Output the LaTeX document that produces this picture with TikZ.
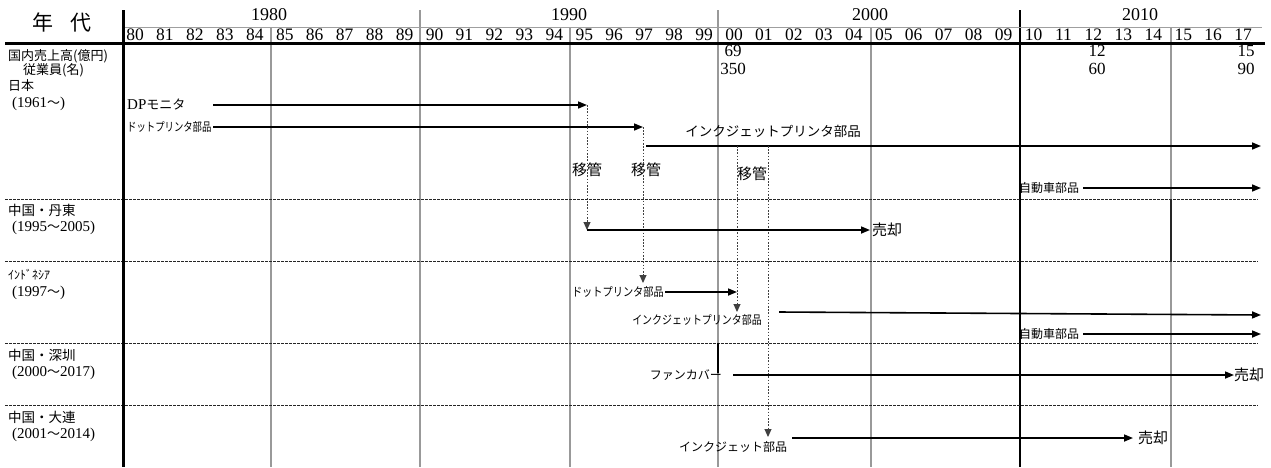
\documentclass[tikz,border=0pt]{standalone}
\usepackage{fontspec}
\usepackage{graphicx}
\setmainfont{Liberation Serif}
\newfontfamily\jp{Noto Sans CJK JP}
\usetikzlibrary{arrows.meta}
\begin{document}
\begin{tikzpicture}[x=1pt,y=-1pt,
  jp/.style={inner sep=1pt, font=\jp\fontsize{#1}{#1}\selectfont},
  num/.style={inner sep=0pt, font=\fontsize{#1}{#1}\selectfont},
  grid/.style={draw=gray!80, line width=1.1pt},
  gridk/.style={draw=black, line width=1.1pt},
  sep/.style={draw=black!85, line width=0.8pt, dash pattern=on 2.5pt off 1.5pt},
  flow/.style={line width=1.6pt, -{Triangle[length=9pt,width=7pt]}},
  move/.style={draw=black!75, line width=1pt, dash pattern=on 1.6pt off 1.6pt, -{Triangle[length=8pt,width=7pt]}}
]
\useasboundingbox (0,0) rectangle (1271,467);

% ---- grid ----
\foreach \x in {271,570,871,1171} \draw[grid] (\x,27) -- (\x,467);
\foreach \x in {420,718} \draw[grid] (\x,10) -- (\x,467);
\draw[gridk] (1020,10) -- (1020,467);
\draw[draw=gray!75, line width=1pt] (123,27) -- (1262,27);
\foreach \y in {199,261,343,405} \draw[sep] (5,\y) -- (1258,\y);
\draw[line width=3pt] (5,43) -- (1265,43);
\draw[line width=3pt] (123,10) -- (123,467);
\draw[black, line width=1.4pt] (718,343) -- (718,373);
\draw[black!85, line width=2pt] (1171,199) -- (1171,261);

% ---- header ----
\node[jp=21] (hdr) at (62,22) {年\hspace{18pt}代};
\node[num=18] (d1980) at (269,15) {1980};
\node[num=18] (d1990) at (569,15) {1990};
\node[num=18] (d2000) at (870,15) {2000};
\node[num=18] (d2010) at (1140,15) {2010};
\foreach \n [count=\i from 0] in {80,81,82,83,84,85,86,87,88,89,90,91,92,93,94,95,96,97,98,99,00,01,02,03,04,05,06,07,08,09,10,11,12,13,14,15,16,17}
  \node[num=17.5] (yr\i) at ({135+29.95*\i},35) {\n};

% ---- figures ----
\node[num=17] (s00) at (733,51) {69};
\node[num=17] (e00) at (733,69) {350};
\node[num=17] (s12) at (1097,51) {12};
\node[num=17] (e12) at (1097,69) {60};
\node[num=17] (s17) at (1246,51) {15};
\node[num=17] (e17) at (1246,69) {90};

% ---- left labels ----
\node[jp=13, anchor=west] (sales) at (7,56) {国内売上高(億円)};
\node[jp=13, anchor=west] (emp) at (22,70) {従業員(名)};
\node[jp=13, anchor=west] (jpn) at (7,86) {日本};
\node[jp=13, anchor=west] (jpnY) at (8,104) {\hspace{3pt}{\rmfamily\fontsize{15}{15}\selectfont(1961}～{\rmfamily\fontsize{15}{15}\selectfont)}};
\node[jp=13.5, anchor=west] (dd) at (7,210) {中国・丹東};
\node[jp=13, anchor=west] (ddY) at (8,228) {\hspace{3pt}{\rmfamily\fontsize{15}{15}\selectfont(1995}～{\rmfamily\fontsize{15}{15}\selectfont2005)}};
\node[jp=12, anchor=west] (id) at (7,275) {ｲﾝﾄﾞﾈｼｱ};
\node[jp=13, anchor=west] (idY) at (8,293) {\hspace{3pt}{\rmfamily\fontsize{15}{15}\selectfont(1997}～{\rmfamily\fontsize{15}{15}\selectfont)}};
\node[jp=13.5, anchor=west] (sz) at (7,355) {中国・深圳};
\node[jp=13, anchor=west] (szY) at (8,373) {\hspace{3pt}{\rmfamily\fontsize{15}{15}\selectfont(2000}～{\rmfamily\fontsize{15}{15}\selectfont2017)}};
\node[jp=13.5, anchor=west] (dl) at (7,417) {中国・大連};
\node[jp=13, anchor=west] (dlY) at (8,435) {\hspace{3pt}{\rmfamily\fontsize{15}{15}\selectfont(2001}～{\rmfamily\fontsize{15}{15}\selectfont2014)}};

% ---- Japan ----
\node[jp=13, anchor=west] (dpm) at (126,104) {{\rmfamily\fontsize{15}{15}\selectfont DP}モニタ};
\node[jp=12, anchor=west] (dotJ) at (126,127) {\scalebox{0.78}[1]{ドットプリンタ部品}};
\node[jp=13.5] (inkJ) at (773,131) {インクジェットプリンタ部品};
\node[jp=12, anchor=west] (carJ) at (1018,188) {自動車部品};
\coordinate (dpS) at (213,105);
\coordinate (dpE) at (587,105);
\coordinate (dotS) at (213,127);
\coordinate (dotE) at (643,127);
\coordinate (inkS) at (646,146);
\coordinate (inkE) at (1261,146);
\coordinate (carJE) at (1261,188);
\draw[flow] (dpS) -- (dpE);
\draw[flow] (dotS) -- (dotE);
\draw[flow] (inkS) -- (inkE);
\draw[flow] (carJ.east) ++(3,0) coordinate (carJS) -- (carJE);

% ---- transfers ----
\node[jp=15] (mv1) at (587,170) {移管};
\node[jp=15] (mv2) at (646,170) {移管};
\node[jp=15] (mv3) at (752,174) {移管};
\coordinate (ddS) at (587,230);
\coordinate (ddE) at (870,230);
\coordinate (idDotTop) at (643,283);
\coordinate (ink1Top) at (737,146);
\coordinate (ink1Bot) at (737,312);
\coordinate (ink2Top) at (768,146);
\coordinate (ink2Bot) at (768,437);
\draw[move] (dpE) -- (ddS);
\draw[move] (dotE) -- (idDotTop);
\draw[move] (ink1Top) -- (ink1Bot);
\draw[move] (ink2Top) -- (ink2Bot);

% ---- Dandong ----
\node[jp=15, anchor=west, inner sep=0pt] (ddSold) at (872,230) {売却};
\draw[flow] (ddS) -- (ddE);

% ---- Indonesia ----
\node[jp=12, anchor=east] (dotI) at (665,292) {\scalebox{0.85}[1]{ドットプリンタ部品}};
\coordinate (dotIE) at (737,292);
\draw[flow] (dotI.east) -- (dotIE);
\node[jp=12] (inkI) at (697,320) {\scalebox{0.83}[1]{インクジェットプリンタ部品}};
\coordinate (inkIS) at (779,312);
\coordinate (inkIE) at (1261,315);
\draw[flow] (inkIS) -- (inkIE);
\node[jp=12, anchor=west] (carI) at (1018,334) {自動車部品};
\coordinate (carIE) at (1261,334);
\draw[flow] (carI.east) ++(3,0) -- (carIE);

% ---- Shenzhen ----
\node[jp=12, anchor=east] (fan) at (723,375) {ファンカバー};
\coordinate (fanS) at (733,375);
\node[jp=15, anchor=west, inner sep=0pt] (szSold) at (1234,375) {売却};
\draw[flow] (fanS) -- (szSold.west);

% ---- Dalian ----
\node[jp=12] (inkD) at (733,447) {インクジェット部品};
\coordinate (inkDS) at (792,438);
\node[jp=15, anchor=west, inner sep=0pt] (dlSold) at (1138,438) {売却};
\draw[flow] (inkDS) -- ([xshift=-5pt]dlSold.west);
\end{tikzpicture}
\end{document}
